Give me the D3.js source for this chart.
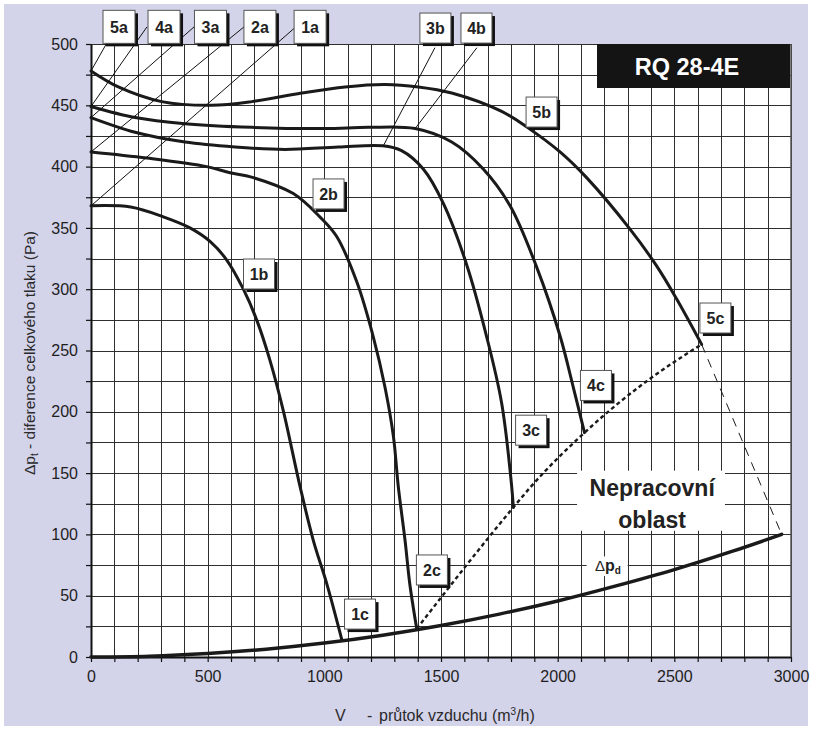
<!DOCTYPE html>
<html>
<head>
<meta charset="utf-8">
<script src="https://cdn.jsdelivr.net/npm/d3@7"></script>
<style>
  body { margin: 0; background: #ffffff; }
  svg { display: block; font-family: "Liberation Sans", Arial, sans-serif; }
</style>
</head>
<body>
<svg id="chart" width="813" height="729"></svg>
<script>
// Axis ticks
const xTickLabels = [0, 500, 1000, 1500, 2000, 2500, 3000];
const yTickLabels = [0, 50, 100, 150, 200, 250, 300, 350, 400, 450, 500];

// Fan characteristic curves, [flow m3/h, total pressure Pa]
const curve1 = [[0,368],[170,367],[310,359],[424,350],[510,339],[581,324],[653,300],[710,275],[767,242],[824,201],[896,139],[953,95],[1010,60],[1075,14]];
const curve2 = [[0,412],[240,407],[496,400],[596,395],[696,391],[867,378],[981,359],[1053,343],[1139,306],[1210,261],[1260,220],[1296,180],[1317,139],[1346,95],[1366,60],[1396,23]];
const curve3 = [[0,440],[189,428],[403,420],[617,416],[831,414],[1060,416],[1250,417],[1331,413],[1424,398],[1510,370],[1610,320],[1696,261],[1760,207],[1803,139],[1810,122]];
const curve4 = [[0,449],[189,440],[403,435],[689,432],[1003,431],[1189,432],[1389,431],[1546,420],[1681,398],[1796,368],[1910,318],[2010,262],[2067,220],[2115,183]];
const curve5 = [[0,478],[117,465],[303,453],[517,450],[689,453],[903,460],[1089,465],[1260,467],[1403,465],[1546,460],[1760,445],[1870,432],[2010,412],[2124,391],[2310,349],[2424,319],[2510,292],[2617,255]];

// Dynamic pressure curve
const dynamicPressure = [[0,0],[250,0.7],[500,2.9],[750,6.4],[1000,11.4],[1250,17.8],[1500,25.7],[1750,35],[2000,45.7],[2250,58],[2500,71.3],[2750,86.3],[2960,100]];

// Limit of the working area
const limitLine = [[1396,23],[1810,122],[1881,138],[2115,183],[2396,227],[2617,255]];
const limitTail = [[2617,255],[2960,100]];

// Curve labels: text, anchor (flow, pressure)
const curveLabels = [
  {t:"5a", at:[120,514], top:true}, {t:"4a", at:[313,514], top:true}, {t:"3a", at:[512,514], top:true},
  {t:"2a", at:[724,514], top:true}, {t:"1a", at:[939,514], top:true},
  {t:"3b", at:[1476,513]}, {t:"4b", at:[1652,513]}, {t:"5b", at:[1931,444.5]},
  {t:"2b", at:[1018,377.7]}, {t:"1b", at:[720,312.4]},
  {t:"3c", at:[1886,185]}, {t:"4c", at:[2164,221.5]}, {t:"5c", at:[2676,276.5]},
  {t:"1c", at:[1153,35]}, {t:"2c", at:[1461,71]}
];
// Leader lines: from label to curve point
const leaders = [
  {from:[107,514], to:curve5[0], label:"5a"},
  {from:[240,514], to:curve4[0], label:"4a"},
  {from:[442,514], to:curve3[0], label:"3a"},
  {from:[656,514], to:curve2[0], label:"2a"},
  {from:[878,514], to:curve1[0], label:"1a"},
  {from:[1474,497], to:[1253,417], label:"3b"},
  {from:[1654,497], to:[1389,431], label:"4b"}
];

const svg = d3.select("#chart");
const x = d3.scaleLinear([0, 3000], [91, 791]);
const y = d3.scaleLinear([0, 500], [657, 44]);
const px = v => Math.round(x(v)) + 0.5;
const py = v => Math.round(y(v)) + 0.5;

// Background panel
svg.append("rect").attr("x", 4).attr("y", 4).attr("width", 804).attr("height", 722).attr("fill", "#d3d3ea");
svg.append("rect").attr("x", x(0)).attr("y", y(500)).attr("width", x(3000) - x(0)).attr("height", y(0) - y(500)).attr("fill", "#ffffff");

// Grid
const grid = svg.append("g").attr("stroke", "#2e2e2e").attr("stroke-width", 1);
grid.selectAll(".gv").data(d3.range(0, 3001, 100)).join("line")
  .attr("x1", d => px(d)).attr("x2", d => px(d)).attr("y1", y(0)).attr("y2", y(500));
grid.selectAll(".gh").data(d3.range(0, 501, 25)).join("line")
  .attr("x1", x(0)).attr("x2", x(3000)).attr("y1", d => py(d)).attr("y2", d => py(d));

// White areas behind in-plot texts
svg.append("rect").attr("x", x(2083)).attr("y", y(152)).attr("width", x(2717) - x(2083)).attr("height", y(103) - y(152)).attr("fill", "#fff");
svg.append("rect").attr("x", x(2124)).attr("y", y(82)).attr("width", x(2300) - x(2124)).attr("height", y(66) - y(82)).attr("fill", "#fff");

// Axes
const xAxis = d3.axisBottom(x).tickValues(d3.range(0, 3001, 100)).tickSize(5).tickSizeOuter(0)
  .tickFormat(d => xTickLabels.includes(d) ? d : "");
const gx = svg.append("g").attr("transform", `translate(0,${y(0)})`).call(xAxis);
gx.select(".domain").attr("stroke", "#111").attr("stroke-width", 2);
gx.selectAll(".tick line").attr("stroke", "#111").attr("stroke-width", 1.2);
gx.selectAll(".tick text").attr("font-size", 16).attr("fill", "#1e1e1e").attr("dy", "1.05em")
  .attr("font-family", "Liberation Sans, Arial, sans-serif");

const yAxis = d3.axisLeft(y).tickValues(d3.range(0, 501, 25)).tickSize(5).tickSizeOuter(0)
  .tickFormat(d => yTickLabels.includes(d) ? d : "");
const gy = svg.append("g").attr("transform", `translate(${x(0)},0)`).call(yAxis);
gy.select(".domain").attr("stroke", "#111").attr("stroke-width", 2);
gy.selectAll(".tick line").attr("stroke", "#111").attr("stroke-width", 1.2);
gy.selectAll(".tick text").attr("font-size", 16).attr("fill", "#1e1e1e").attr("x", -13)
  .attr("font-family", "Liberation Sans, Arial, sans-serif");

// Right frame edge
svg.append("line").attr("x1", x(3000)).attr("x2", x(3000)).attr("y1", y(500)).attr("y2", y(0))
  .attr("stroke", "#555").attr("stroke-width", 1.5);

// Axis titles
const yTitle = svg.append("text").attr("transform", `translate(35,353) rotate(-90)`)
  .attr("text-anchor", "middle").attr("font-size", 15.5).attr("fill", "#2a2a2a");
yTitle.append("tspan").text("Δp");
yTitle.append("tspan").attr("font-size", 10).attr("dy", 3).text("t");
yTitle.append("tspan").attr("dy", -3).text(" - diference celkového tlaku  (Pa)");

const xTitle = svg.append("text").attr("y", 721).attr("font-size", 16).attr("fill", "#2a2a2a");
xTitle.append("tspan").attr("x", 335).text("V");
xTitle.append("tspan").attr("x", 367).text("-");
xTitle.append("tspan").attr("x", 379).text("průtok vzduchu (m");
xTitle.append("tspan").attr("font-size", 10).attr("dy", -6).text("3");
xTitle.append("tspan").attr("dy", 6).text("/h)");

// Curves
const line = d3.line().x(d => x(d[0])).y(d => y(d[1])).curve(d3.curveCatmullRom.alpha(0.5));
const curves = svg.append("g").attr("fill", "none").attr("stroke", "#1a1a1a").attr("stroke-linejoin", "round").attr("stroke-linecap", "round");
[curve1, curve2, curve3, curve4, curve5].forEach(c => curves.append("path").attr("d", line(c)).attr("stroke-width", 3));
curves.append("path").attr("d", line(dynamicPressure)).attr("stroke-width", 3.5);
curves.append("path").attr("d", d3.line().x(d => x(d[0])).y(d => y(d[1])).curve(d3.curveMonotoneX)(limitLine))
  .attr("stroke-width", 2.4).attr("stroke-dasharray", "4,3").attr("stroke-linecap", "butt");
curves.append("path").attr("d", d3.line().x(d => x(d[0])).y(d => y(d[1]))(limitTail))
  .attr("stroke-width", 1).attr("stroke-dasharray", "9,7").attr("stroke-linecap", "butt");

// Leader lines
svg.append("g").attr("stroke", "#111").attr("stroke-width", 1).selectAll("line").data(leaders).join("line")
  .attr("x1", d => x(d.from[0])).attr("y1", d => y(d.from[1]))
  .attr("x2", d => x(d.to[0])).attr("y2", d => y(d.to[1]));

// Title box
svg.append("rect").attr("x", 597).attr("y", 44).attr("width", 193).attr("height", 44).attr("fill", "#141414");
svg.append("text").attr("x", 687).attr("y", 75).attr("text-anchor", "middle").attr("font-size", 23.5)
  .attr("font-weight", "bold").attr("fill", "#ffffff").text("RQ 28-4E");

// Labeled boxes
const lb = svg.append("g").selectAll("g").data(curveLabels).join("g")
  .attr("transform", d => `translate(${x(d.at[0])},${y(d.at[1])})`);
lb.append("rect").attr("x", d => d.top ? -13 : -12.5).attr("y", d => d.top ? -13.5 : -12)
  .attr("width", d => d.top ? 32 : 31).attr("height", d => d.top ? 33 : 30).attr("fill", "#111");
lb.append("rect").attr("x", d => d.top ? -16 : -15.5).attr("y", d => d.top ? -16.5 : -15)
  .attr("width", d => d.top ? 32 : 31).attr("height", d => d.top ? 33 : 30)
  .attr("fill", "#fff").attr("stroke", "#555").attr("stroke-width", 1);
lb.append("text").attr("text-anchor", "middle").attr("y", 6).attr("font-size", 16)
  .attr("font-weight", "bold").attr("fill", "#222").text(d => d.t);

// Region and curve texts
svg.append("text").attr("x", x(2405)).attr("y", y(131)).attr("text-anchor", "middle").attr("font-size", 23)
  .attr("font-weight", "bold").attr("fill", "#222").text("Nepracovní");
svg.append("text").attr("x", x(2405)).attr("y", y(105)).attr("text-anchor", "middle").attr("font-size", 23)
  .attr("font-weight", "bold").attr("fill", "#222").text("oblast");

const dp = svg.append("text").attr("x", x(2160)).attr("y", y(70)).attr("fill", "#222");
dp.append("tspan").attr("font-size", 15).text("Δ");
dp.append("tspan").attr("font-size", 16).attr("font-weight", "bold").text("p");
dp.append("tspan").attr("font-size", 10).attr("font-weight", "bold").attr("dy", 3).text("d");
</script>
</body>
</html>
